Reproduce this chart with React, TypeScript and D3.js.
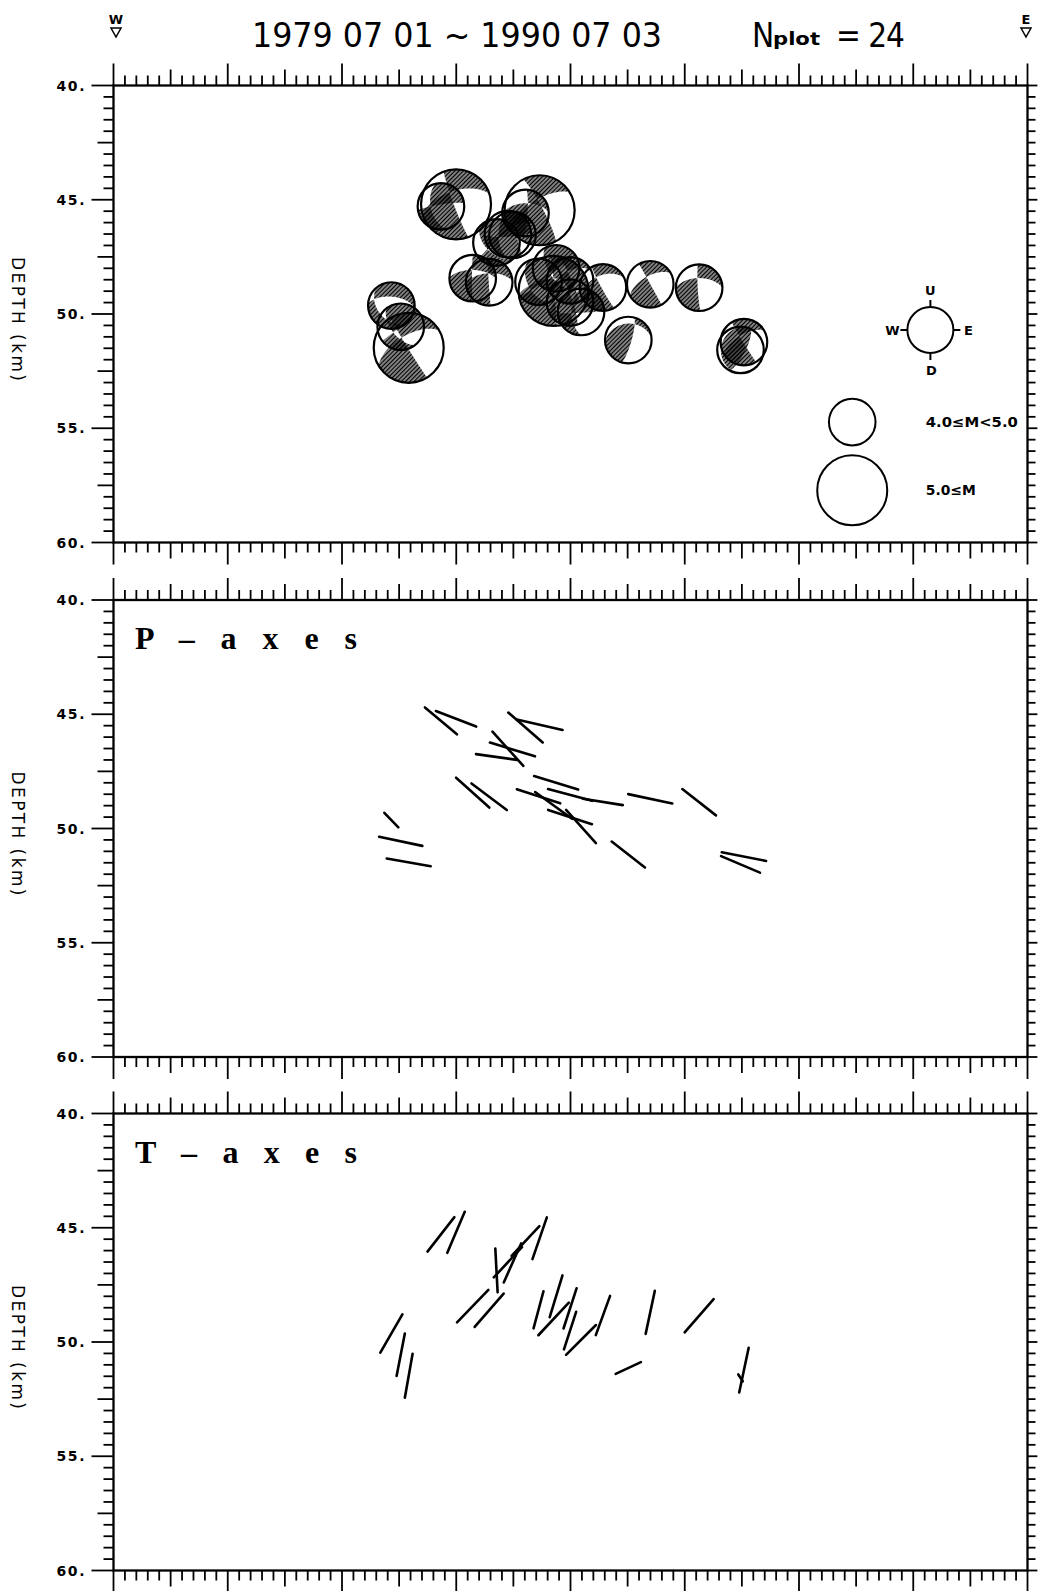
import React from "react";
import * as d3 from "d3";

// ---------- data ----------
// event positions: horizontal distance (km, W->E) and depth (km)
const eventX = [14.33, 14.99, 18.03, 18.65, 17.26, 17.46, 16.76, 15.72, 16.44, 19.37, 18.6, 19.98, 21.42, 19.26, 20.46, 19.98, 23.49, 25.63, 22.53, 27.59, 27.44, 12.16, 12.57, 12.92];
const eventDepth = [45.29, 45.2, 45.58, 45.46, 46.51, 46.54, 46.87, 48.43, 48.61, 48.0, 48.59, 48.53, 48.84, 48.99, 49.91, 49.5, 48.7, 48.85, 51.14, 51.23, 51.57, 49.63, 50.56, 51.48];
const eventMag = [4.5, 5.2, 4.5, 5.3, 4.4, 4.3, 4.4, 4.5, 4.4, 4.6, 4.5, 4.3, 4.4, 5.1, 4.5, 4.6, 4.3, 4.4, 4.3, 4.4, 4.2, 4.4, 4.5, 5.4];
// projected P axis: angle in the section plane (deg, counter-clockwise from East) and projected length fraction
const pAngle = [-40, -21, -41, -13, -48, -17, -8, -42, -37, -17, -18, -15, -9, -36, -48, -18, -12, -38, -38, -11, -23, -46, -12, -10];
const pLength = [0.87, 0.9, 0.95, 0.98, 0.96, 0.98, 0.86, 0.93, 0.92, 0.96, 0.95, 0.95, 0.84, 0.95, 0.93, 0.96, 0.94, 0.89, 0.88, 0.94, 0.88, 0.42, 0.92, 0.93];
// projected T axis
const tAngle = [52, 67, 47, 71, 47, 66, 93, 46, 49, 73, 75, 72, 70, 47, 45, 72, 78, 49, 25, 78, -57, 60, 79, 80];
const tLength = [0.91, 0.93, 0.85, 0.92, 0.86, 0.89, 0.91, 0.94, 0.92, 0.91, 0.8, 0.88, 0.87, 0.93, 0.88, 0.82, 0.92, 0.92, 0.58, 0.95, 0.17, 0.92, 0.9, 0.93];

const depthTickValues = [40, 45, 50, 55, 60];
const depthTickLabels = ["40.", "45.", "50.", "55.", "60."];
const magClassBreak = [5.0];
const legendLabels = ["4.0\u2264M<5.0", "5.0\u2264M"];
const legendMags = [4.5, 5.5];
const titleText = "1979 07 01 ~ 1990 07 03";
const nPlot = 24;
const panelNames = ["", "P \u2013 a x e s", "T \u2013 a x e s"];

// ---------- layout ----------
const W = 1042;
const H = 1591;
const LEFT = 113.5;
const RIGHT = 1027.5;
const PANEL_H = 457;
const PANEL_TOPS = [85.5, 600, 1113.5];
const AXIS_HALF = 24;
const FONT_SANS = "'DejaVu Sans', 'Liberation Sans', sans-serif";
const FONT_COND = "'DejaVu Sans Condensed', 'Liberation Sans Narrow', 'DejaVu Sans', sans-serif";
const FONT_SERIF = "'Liberation Serif', 'DejaVu Serif', serif";

type V3 = [number, number, number];
const dot = (a: V3, b: V3) => a[0] * b[0] + a[1] * b[1] + a[2] * b[2];

function axisVec(angDeg: number, frac: number): V3 {
  const a = (angDeg * Math.PI) / 180;
  return [frac * Math.cos(a), frac * Math.sin(a), Math.sqrt(Math.max(0, 1 - frac * frac))];
}

function ptAxes(i: number): [V3, V3] {
  const P = axisVec(pAngle[i], pLength[i]);
  const t1 = axisVec(tAngle[i], tLength[i]);
  const t2: V3 = [t1[0], t1[1], -t1[2]];
  let T = Math.abs(dot(P, t1)) <= Math.abs(dot(P, t2)) ? t1 : t2;
  const k = dot(T, P);
  T = [T[0] - k * P[0], T[1] - k * P[1], T[2] - k * P[2]];
  const n = Math.hypot(T[0], T[1], T[2]) || 1;
  return [P, [T[0] / n, T[1] / n, T[2] / n]];
}

function beachballPath(P: V3, T: V3, cx: number, cy: number, R: number): string {
  const N = 56;
  const ext = 1.08;
  const step = (2 * ext) / N;
  const values = new Array(N * N);
  for (let j = 0; j < N; j++) {
    for (let i = 0; i < N; i++) {
      let u = -ext + (i + 0.5) * step;
      let v = -(-ext + (j + 0.5) * step);
      let r = Math.hypot(u, v);
      if (r > 1) {
        u /= r;
        v /= r;
        r = 1;
      }
      let n: V3;
      if (r < 1e-9) n = [0, 0, 1];
      else {
        const th = 2 * Math.asin(r / Math.SQRT2);
        const s = Math.sin(th) / r;
        n = [u * s, v * s, Math.cos(th)];
      }
      values[j * N + i] = dot(n, T) ** 2 - dot(n, P) ** 2;
    }
  }
  const c = d3.contours().size([N, N]).thresholds([0])(values)[0];
  const proj = d3.geoIdentity().scale(step * R).translate([cx - ext * R, cy - ext * R]);
  return d3.geoPath(proj)(c as any) || "";
}

function Frame({ y }: { y: d3.ScaleLinear<number, number> }) {
  const x = d3.scaleLinear().domain([0, 40]).range([LEFT, RIGHT]);
  const xt = d3.range(0, 81).map((k) => k * 0.5);
  const yt = d3.range(0, 41).map((k) => 40 + k * 0.5);
  const len = (v: number) => (Math.abs(v % 5) < 1e-6 ? 22 : Math.abs(v % 2.5) < 1e-6 ? 16 : 10);
  const top = y(40);
  const bot = y(60);
  return (
    <g stroke="#000" strokeWidth={1.8} fill="none">
      <rect x={x(0)} y={top} width={x(40) - x(0)} height={bot - top} strokeWidth={2.3} />
      {xt.map((v) => (
        <g key={"x" + v}>
          <line x1={x(v)} x2={x(v)} y1={top} y2={top - len(v)} />
          <line x1={x(v)} x2={x(v)} y1={bot} y2={bot + len(v)} />
        </g>
      ))}
      {yt.map((v) => (
        <g key={"y" + v}>
          <line x1={x(0)} x2={x(0) - len(v - 40)} y1={y(v)} y2={y(v)} />
          <line x1={x(40)} x2={x(40) + Math.max(8, len(v - 40) * 0.45)} y1={y(v)} y2={y(v)} />
        </g>
      ))}
      {depthTickValues.map((v, i) => (
        <text
          key={"l" + v}
          x={x(0) - 29}
          y={y(v)}
          dy="0.36em"
          textAnchor="end"
          stroke="none"
          fill="#000"
          fontFamily={FONT_SANS}
          fontWeight="bold"
          fontSize={14}
          textLength={28}
          lengthAdjust="spacing"
        >
          {depthTickLabels[i]}
        </text>
      ))}
      <text
        transform={`translate(18,${(top + bot) / 2 + 5}) rotate(90)`}
        textAnchor="middle"
        dominantBaseline="central"
        stroke="none"
        fill="#000"
        fontFamily={FONT_SANS}
        fontSize={17}
        textLength={124}
        lengthAdjust="spacing"
      >
        DEPTH (km)
      </text>
    </g>
  );
}

export default function App() {
  const x = d3.scaleLinear().domain([0, 40]).range([LEFT, RIGHT]);
  const ys = PANEL_TOPS.map((t) => d3.scaleLinear().domain([40, 60]).range([t, t + PANEL_H]));
  const rScale = d3.scaleThreshold<number, number>().domain(magClassBreak).range([23.3, 35]);

  const events = eventX.map((ex, i) => ({
    i,
    x: ex,
    depth: eventDepth[i],
    mag: eventMag[i],
    axes: ptAxes(i),
  }));

  const seg = (cx: number, cy: number, ang: number, frac: number) => {
    const a = (ang * Math.PI) / 180;
    const dx = AXIS_HALF * frac * Math.cos(a);
    const dy = AXIS_HALF * frac * Math.sin(a);
    return { x1: cx - dx, y1: cy + dy, x2: cx + dx, y2: cy - dy };
  };

  const y0 = ys[0];
  const keyCx = x(35.75);
  const keyCy = y0(50.7);
  const keyR = 23;

  return (
    <svg
      width={W}
      height={H}
      viewBox={`0 0 ${W} ${H}`}
      style={{ position: "absolute", left: 0, top: 0, background: "#fff" }}
    >
      <defs>
        <pattern id="hatch" patternUnits="userSpaceOnUse" width={3} height={3} patternTransform="rotate(45)">
          <line x1={1.5} y1={-1} x2={1.5} y2={4} stroke="#000" strokeWidth={2} />
        </pattern>
        {events.map((e) => (
          <clipPath id={`bb${e.i}`} key={e.i}>
            <circle cx={x(e.x)} cy={y0(e.depth)} r={rScale(e.mag)} />
          </clipPath>
        ))}
      </defs>
      <rect x={0} y={0} width={W} height={H} fill="#fff" />

      {/* header */}
      <text x={116} y={24} textAnchor="middle" fontFamily={FONT_SANS} fontWeight="bold" fontSize={13}>W</text>
      <path d="M111,28 L121,28 L116,37 Z" fill="none" stroke="#000" strokeWidth={1.5} />
      <text x={1026} y={24} textAnchor="middle" fontFamily={FONT_SANS} fontWeight="bold" fontSize={13}>E</text>
      <path d="M1021,28 L1031,28 L1026,37 Z" fill="none" stroke="#000" strokeWidth={1.5} />
      <text x={252} y={47} fontFamily={FONT_COND} fontSize={33} fontWeight={300} textLength={410} lengthAdjust="spacingAndGlyphs">
        {titleText}
      </text>
      <text x={752} y={47} fontFamily={FONT_COND} fontSize={33} fontWeight={300}>N</text>
      <text x={773} y={45} fontFamily={FONT_SANS} fontWeight="bold" fontSize={17} textLength={47} lengthAdjust="spacingAndGlyphs">plot</text>
      <text x={836} y={47} fontFamily={FONT_COND} fontSize={33} fontWeight={300} textLength={69} lengthAdjust="spacing">{`= ${nPlot}`}</text>

      {ys.map((y, k) => (
        <Frame key={k} y={y} />
      ))}

      {/* panel 1: focal mechanisms */}
      {events.map((e) => {
        const cx = x(e.x);
        const cy = y0(e.depth);
        const R = rScale(e.mag);
        return (
          <g key={"bb" + e.i}>
            <path d={beachballPath(e.axes[0], e.axes[1], cx, cy, R)} fill="url(#hatch)" clipPath={`url(#bb${e.i})`} />
            <circle cx={cx} cy={cy} r={R} fill="none" stroke="#000" strokeWidth={2.2} />
          </g>
        );
      })}

      {/* orientation key */}
      <g stroke="#000" strokeWidth={2} fill="none">
        <circle cx={keyCx} cy={keyCy} r={keyR} />
        <line x1={keyCx} x2={keyCx} y1={keyCy - keyR} y2={keyCy - keyR - 7} />
        <line x1={keyCx} x2={keyCx} y1={keyCy + keyR} y2={keyCy + keyR + 7} />
        <line x1={keyCx - keyR} x2={keyCx - keyR - 7} y1={keyCy} y2={keyCy} />
        <line x1={keyCx + keyR} x2={keyCx + keyR + 7} y1={keyCy} y2={keyCy} />
      </g>
      <g fontFamily={FONT_SANS} fontWeight="bold" fontSize={13} textAnchor="middle">
        <text x={keyCx} y={keyCy - keyR - 12}>U</text>
        <text x={keyCx + 1} y={keyCy + keyR + 22}>D</text>
        <text x={keyCx - keyR - 15} y={keyCy + 5}>W</text>
        <text x={keyCx + keyR + 15} y={keyCy + 5}>E</text>
      </g>

      {/* magnitude legend */}
      {legendMags.map((m, k) => {
        const cy = y0(k === 0 ? 54.73 : 57.71);
        return (
          <g key={"lg" + k}>
            <circle cx={x(32.33)} cy={cy} r={rScale(m)} fill="none" stroke="#000" strokeWidth={2} />
            <text
              x={x(35.55)}
              y={cy}
              dy="0.36em"
              fontFamily={FONT_SANS}
              fontWeight="bold"
              fontSize={14}
              textLength={k === 0 ? 92 : 50}
              lengthAdjust="spacingAndGlyphs"
            >
              {legendLabels[k]}
            </text>
          </g>
        );
      })}

      {/* panel 2 & 3: P and T axes */}
      {[1, 2].map((k) => (
        <g key={"ax" + k} stroke="#000" strokeWidth={2.6} strokeLinecap="round">
          {events.map((e) => {
            const s =
              k === 1
                ? seg(x(e.x), ys[k](e.depth), pAngle[e.i], pLength[e.i])
                : seg(x(e.x), ys[k](e.depth), tAngle[e.i], tLength[e.i]);
            return <line key={e.i} {...s} />;
          })}
        </g>
      ))}
      {[1, 2].map((k) => (
        <text
          key={"pn" + k}
          x={135}
          y={ys[k](40) + 49}
          fontFamily={FONT_SERIF}
          fontWeight="bold"
          fontSize={32}
          textLength={222}
          lengthAdjust="spacing"
        >
          {panelNames[k]}
        </text>
      ))}
    </svg>
  );
}
